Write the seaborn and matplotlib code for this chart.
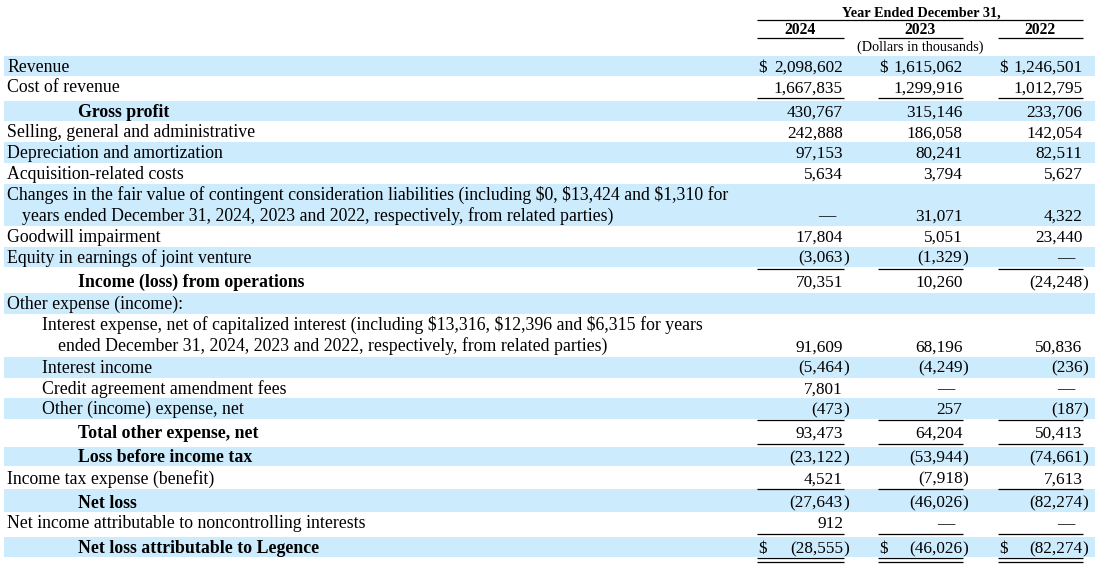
import matplotlib
matplotlib.use("Agg")
import matplotlib.pyplot as plt
import seaborn as sns

# ---------------- data ----------------
years = ["2024", "2023", "2022"]
header_title = "Year Ended December 31,"
units_note = "(Dollars in thousands)"

labels = [
    "Revenue",
    "Cost of revenue",
    "Gross profit",
    "Selling, general and administrative",
    "Depreciation and amortization",
    "Acquisition-related costs",
    "Changes in the fair value of contingent consideration liabilities (including $0, $13,424 and $1,310 for\n"
    "years ended December 31, 2024, 2023 and 2022, respectively, from related parties)",
    "Goodwill impairment",
    "Equity in earnings of joint venture",
    "Income (loss) from operations",
    "Other expense (income):",
    "Interest expense, net of capitalized interest (including $13,316, $12,396 and $6,315 for years\n"
    "ended December 31, 2024, 2023 and 2022, respectively, from related parties)",
    "Interest income",
    "Credit agreement amendment fees",
    "Other (income) expense, net",
    "Total other expense, net",
    "Loss before income tax",
    "Income tax expense (benefit)",
    "Net loss",
    "Net income attributable to noncontrolling interests",
    "Net loss attributable to Legence",
]

# None = blank cell, 0 = em dash, negatives shown in parentheses
v2024 = [2098602, 1667835, 430767, 242888, 97153, 5634, 0, 17804, -3063, 70351,
         None, 91609, -5464, 7801, -473, 93473, -23122, 4521, -27643, 912, -28555]
v2023 = [1615062, 1299916, 315146, 186058, 80241, 3794, 31071, 5051, -1329, 10260,
         None, 68196, -4249, 0, 257, 64204, -53944, -7918, -46026, 0, -46026]
v2022 = [1246501, 1012795, 233706, 142054, 82511, 5627, 4322, 23440, 0, -24248,
         None, 50836, -236, 0, -187, 50413, -74661, 7613, -82274, 0, -82274]

bold_rows = {"Gross profit", "Income (loss) from operations", "Total other expense, net",
             "Loss before income tax", "Net loss", "Net loss attributable to Legence"}
dollar_rows = {"Revenue", "Net loss attributable to Legence"}

# ---------------- layout ----------------
row_heights = [20.8, 24.2, 20.5, 20.8, 20.8, 20.8, 42.2, 20.8, 20.8, 26.0, 20.8,
               42.5, 20.8, 20.8, 20.9, 27.3, 19.5, 23.3, 22.4, 25.0, 20.3]
baseline_off = [16, 16, 16, 16, 16, 16, 16, 16, 16, 19.5, 16,
                16, 16, 16, 16, 18.3, 15.5, 17.5, 18.2, 16.8, 16.3]
indent = [7, 7, 78, 7, 7, 7, 7, 7, 7, 78, 7, 42, 42, 42, 42, 78, 78, 7, 78, 7, 78]
cont_indent = {6: 22, 11: 58}
first_top = 55.7

col_left = [757, 878, 998]
col_right = [843.5, 963, 1083]
num_right = [843, 962.5, 1082.5]

blue = "#CCEBFD"
FS_NUM = 12.45
FS_LAB = 12.75
FS_HEAD = 10.3
FS_YEAR = 11.3
FONT = ["Liberation Serif", "DejaVu Serif"]

sns.set_theme(style="white")
plt.rcParams["font.family"] = FONT

fig = plt.figure(figsize=(11, 5.66), dpi=100)
ax = fig.add_axes([0, 0, 1, 1])
ax.set_xlim(0, 1100)
ax.set_ylim(566, 0)
ax.axis("off")


def txt(x, y, s, ha="left", weight="normal", fs=FS_NUM):
    ax.text(x, y, s, ha=ha, va="baseline", fontsize=fs, weight=weight,
            family=FONT, color="black", parse_math=False)


def hline(y, x0, x1):
    ax.plot([x0, x1], [y, y], color="black", lw=0.9, solid_capstyle="butt")


# header
txt(921, 17, header_title, ha="center", weight="bold", fs=FS_HEAD)
hline(20.3, col_left[0], col_right[2])
for i, yr in enumerate(years):
    txt((col_left[i] + col_right[i]) / 2 - 0.5, 33.5, yr, ha="center", weight="bold", fs=FS_YEAR)
    hline(37.8, col_left[i], col_right[i])
txt(920, 51, units_note, ha="center", fs=FS_HEAD)

# rows
tops = []
t = first_top
for h in row_heights:
    tops.append(t)
    t += h

cols = [v2024, v2023, v2022]
for r, lab in enumerate(labels):
    top, h = tops[r], row_heights[r]
    if r % 2 == 0:
        ax.axhspan(top, top + h, xmin=4 / 1100, xmax=1095 / 1100, color=blue, lw=0, zorder=0)
    lines = lab.split("\n")
    base = top + baseline_off[r]
    w = "bold" if lab in bold_rows else "normal"
    for k, ln in enumerate(lines):
        x = indent[r] if k == 0 else cont_indent.get(r, indent[r] + 15)
        txt(x, base + 21 * k, ln, weight=w, fs=FS_LAB)
    vbase = base + 21 * (len(lines) - 1)
    for c in range(3):
        v = cols[c][r]
        if v is None:
            continue
        if v == 0:
            txt(num_right[c] - 8, vbase, "\u2014", ha="right")
        elif v < 0:
            txt(num_right[c], vbase, "({:,}".format(-v), ha="right")
            txt(num_right[c], vbase, ")", ha="left")
        else:
            txt(num_right[c], vbase, "{:,}".format(v), ha="right")
        if lab in dollar_rows:
            txt(col_left[c] + 1, vbase, "$", ha="left")

# underlines
single_lines = [97.7, 269.3, 419.5, 443.5, 489.3, 534.3]
for y in single_lines:
    for c in range(3):
        hline(y, col_left[c], col_right[c])
for y in [558.2, 561.5]:
    for c in range(3):
        hline(y, col_left[c], col_right[c])

fig.savefig("out.png", dpi=100)
